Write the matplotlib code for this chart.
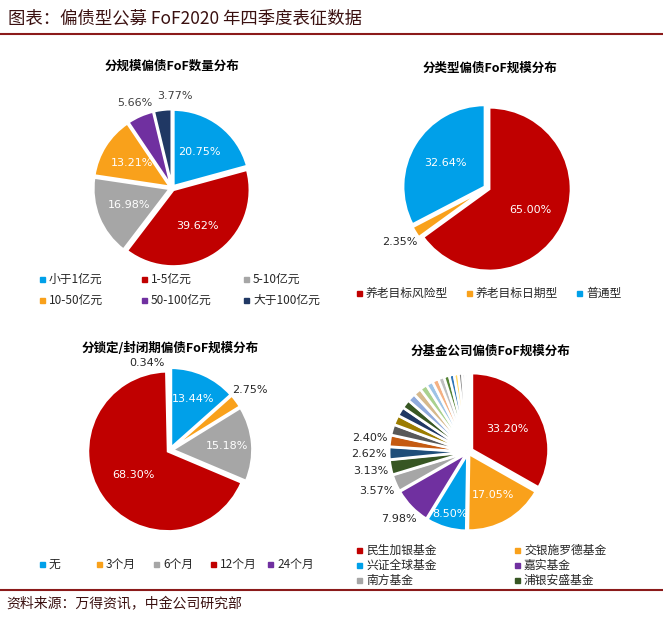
import matplotlib
matplotlib.use("Agg")
import matplotlib.pyplot as plt
import numpy as np

plt.rcParams['font.family'] = ['Noto Sans CJK SC', 'DejaVu Sans']

# Data
p1_labels = ["小于1亿元", "1-5亿元", "5-10亿元", "10-50亿元", "50-100亿元", "大于100亿元"]
p1_values = [20.75, 39.62, 16.98, 13.21, 5.66, 3.77]
p2_labels = ["养老目标风险型", "养老目标日期型", "普通型"]
p2_values = [65.00, 2.35, 32.64]
p3_labels = ["无", "3个月", "6个月", "12个月", "24个月"]
p3_values = [13.44, 2.75, 15.18, 68.30, 0.34]
p4_labels = ["民生加银基金", "交银施罗德基金", "兴证全球基金", "嘉实基金", "南方基金", "浦银安盛基金",
             "其他1", "其他2", "其他3", "其他4", "其他5", "其他6", "其他7", "其他8", "其他9", "其他10",
             "其他11", "其他12", "其他13", "其他14", "其他15", "其他16", "其他17", "其他18"]
p4_values = [33.20, 17.05, 8.50, 7.98, 3.57, 3.13, 2.62, 2.40,
             2.2, 2.0, 1.9, 1.8, 1.7, 1.6, 1.5, 1.4, 1.3, 1.2, 1.1, 1.0, 0.9, 0.8, 0.6, 0.55]

RED = "#C00000"; BLUE = "#00A0E9"; GRAY = "#A6A6A6"; ORANGE = "#F9A11B"; PURPLE = "#7030A0"; NAVY = "#203864"
p1_colors = [BLUE, RED, GRAY, ORANGE, PURPLE, NAVY]
p2_colors = [RED, ORANGE, BLUE]
p3_colors = [BLUE, ORANGE, GRAY, RED, PURPLE]
p4_colors = [RED, ORANGE, BLUE, PURPLE, GRAY, "#375623", "#1F4E79", "#C55A11", "#595959", "#9C7C00",
             "#203864", "#385723", "#8FAADC", "#D6B98C", "#A9D18E", "#9DC3E6", "#F4B183", "#BFBFBF",
             "#548235", "#2E75B6", "#FFD966", "#7F7F7F", "#C9C9C9", "#DDEBF7"]

fig = plt.figure(figsize=(6.63, 6.19), dpi=100)
W, H = 663, 619

def ax_px(cx, cy, r):
    return fig.add_axes([(cx - r) / W, 1 - (cy + r) / H, 2 * r / W, 2 * r / H])

def draw(ax, vals, cols, explode, lab):
    wedges, _ = ax.pie(vals, colors=cols, startangle=90, counterclock=False, explode=explode,
                       wedgeprops=dict(edgecolor="white", linewidth=1.8))
    ax.set_xlim(-1.15, 1.15); ax.set_ylim(-1.15, 1.15); ax.set_aspect("equal")
    ax.axis("off")
    for i, (w, v) in enumerate(zip(wedges, vals)):
        if lab[i] is None:
            continue
        d, c = lab[i][:2]
        ang = np.deg2rad((w.theta1 + w.theta2) / 2) + (lab[i][2] if len(lab[i]) > 2 else 0)
        ax.text(d * np.cos(ang), d * np.sin(ang), f"{v:.2f}%", ha="center", va="center",
                fontsize=8, color=c, family="DejaVu Sans")
    return wedges

# Title
fig.text(8 / W, 1 - 18 / H, "图表：偏债型公募 FoF2020 年四季度表征数据", fontsize=12.5, color="#3a1010",
         style="italic", va="center")
fig.add_artist(plt.Line2D([0, 1], [1 - 34 / H, 1 - 34 / H], color="#8B1A1A", lw=1.5))
fig.add_artist(plt.Line2D([0, 1], [1 - 590 / H, 1 - 590 / H], color="#8B1A1A", lw=1.5))
fig.text(6 / W, 1 - 604 / H, "资料来源：万得资讯，中金公司研究部", fontsize=10, color="#3a1010",
         style="italic", va="center")

# Subtitles
fig.text(172 / W, 1 - 70 / H, "分规模偏债FoF数量分布", ha="center", fontsize=9, weight="bold")
fig.text(490 / W, 1 - 72 / H, "分类型偏债FoF规模分布", ha="center", fontsize=9, weight="bold")
fig.text(170 / W, 1 - 352 / H, "分锁定/封闭期偏债FoF规模分布", ha="center", fontsize=9, weight="bold")
fig.text(490 / W, 1 - 355 / H, "分基金公司偏债FoF规模分布", ha="center", fontsize=9, weight="bold")

# Pie 1
ax1 = ax_px(172, 188, 88)
draw(ax1, p1_values, p1_colors, [0.03] * 6,
     [(0.6, "white"), (0.6, "white"), (0.6, "white"), (0.62, "white"), (1.22, "#404040"), (1.2, "#404040", -0.15)])
# Pie 2
ax2 = ax_px(487, 188, 94)
draw(ax2, p2_values, p2_colors, [0.03] * 3,
     [(0.6, "white"), (1.25, "#262626"), (0.6, "white")])
# Pie 3
ax3 = ax_px(170, 450, 92)
draw(ax3, p3_values, p3_colors, [0.03] * 5,
     [(0.7, "white"), (1.25, "#262626"), (0.72, "white"), (0.55, "white"), (1.12, "#262626", 0.25)])
# Pie 4
ax4 = ax_px(468, 452, 88)
lab4 = [(0.6, "white"), (0.65, "white"), (0.85, "white"), (1.25, "#262626"), (1.3, "#262626"),
        (1.3, "#262626"), (1.3, "#262626"), (1.3, "#262626")] + [None] * 16
draw(ax4, p4_values, p4_colors, [0.06] + [0.03] * 23, lab4)

# Legends
def legend(x0, y0, items, cols, dx, dy, ncol):
    for i, (t, c) in enumerate(zip(items, cols)):
        r, k = divmod(i, ncol)
        x = x0 + k * dx; y = y0 + r * dy
        fig.patches.append(plt.Rectangle(((x) / W, 1 - (y + 3) / H), 5 / W, 5 / H, color=c,
                                         transform=fig.transFigure, figure=fig))
        fig.text((x + 9) / W, 1 - y / H, t, fontsize=8.5, va="center", color="#262626")

legend(40, 279, p1_labels, p1_colors, 102, 21, 3)
legend(357, 293, p2_labels, p2_colors, 110, 0, 3)
legend(40, 564, p3_labels, p3_colors, 57, 0, 5)
legend(357, 550, p4_labels[:6], p4_colors[:6], 158, 15, 2)

fig.savefig("out.png", dpi=100, facecolor="white")
